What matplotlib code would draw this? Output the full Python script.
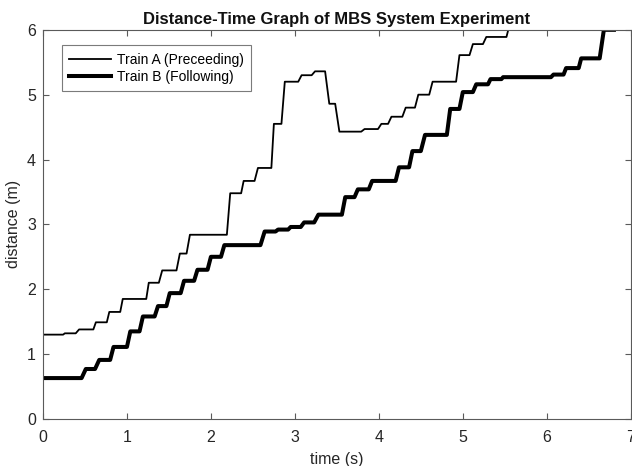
import matplotlib
matplotlib.use("Agg")
import matplotlib.pyplot as plt
import numpy as np

# Train A (Preceeding): step segments (start time, end time, distance)
a_t0 = [0.00, 0.26, 0.43, 0.63, 0.79, 0.95, 1.26, 1.42, 1.63, 1.75, 2.23, 2.39, 2.56, 2.75,
        2.88, 3.08, 3.24, 3.41, 3.53, 3.83, 4.03, 4.15, 4.32, 4.47, 4.64, 4.96, 5.12, 5.28, 5.58]
a_t1 = [0.24, 0.39, 0.60, 0.76, 0.92, 1.23, 1.38, 1.59, 1.71, 2.19, 2.36, 2.52, 2.72, 2.84,
        3.04, 3.20, 3.36, 3.48, 3.79, 3.99, 4.11, 4.28, 4.43, 4.60, 4.92, 5.08, 5.24, 5.52, 5.70]
a_d = [1.30, 1.32, 1.38, 1.49, 1.65, 1.85, 2.10, 2.29, 2.55, 2.84, 3.48, 3.67, 3.87, 4.55,
       5.20, 5.30, 5.36, 4.86, 4.43, 4.47, 4.55, 4.66, 4.80, 5.00, 5.20, 5.61, 5.78, 5.89, 6.20]

# Train B (Following)
b_t0 = [0.00, 0.51, 0.67, 0.84, 1.04, 1.19, 1.37, 1.51, 1.68, 1.84, 2.00, 2.16, 2.64, 2.80,
        2.95, 3.11, 3.28, 3.60, 3.75, 3.92, 4.24, 4.40, 4.55, 4.85, 5.00, 5.16, 5.33, 5.48,
        6.08, 6.23, 6.41, 6.68]
b_t1 = [0.46, 0.62, 0.80, 1.00, 1.15, 1.33, 1.47, 1.64, 1.80, 1.96, 2.12, 2.59, 2.77, 2.92,
        3.07, 3.23, 3.56, 3.71, 3.88, 4.20, 4.36, 4.50, 4.81, 4.96, 5.12, 5.30, 5.46, 6.05,
        6.20, 6.38, 6.63, 6.80]
b_d = [0.63, 0.77, 0.91, 1.11, 1.35, 1.58, 1.74, 1.94, 2.13, 2.30, 2.50, 2.68, 2.89, 2.92,
       2.96, 3.03, 3.15, 3.42, 3.54, 3.67, 3.88, 4.13, 4.38, 4.78, 5.04, 5.16, 5.24, 5.27,
       5.31, 5.41, 5.56, 6.00]

x_ticks = [0, 1, 2, 3, 4, 5, 6, 7]
y_ticks = [0, 1, 2, 3, 4, 5, 6]


def path(t0, t1, d):
    t = np.column_stack([t0, t1]).ravel()
    y = np.column_stack([d, d]).ravel()
    return t, y


plt.rcParams['font.family'] = ['Liberation Sans', 'DejaVu Sans']
fig = plt.figure(figsize=(6.32, 4.66), dpi=100)
ax = fig.add_axes([0.068, 0.101, 0.930, 0.835])

ta, ya = path(a_t0, a_t1, a_d)
tb, yb = path(b_t0, b_t1, b_d)
ax.plot(ta, ya, color='black', lw=1.3, label='Train A (Preceeding)')
ax.plot(tb, yb, color='black', lw=2.9, label='Train B (Following)')

ax.set_xlim(0, 7)
ax.set_ylim(0, 6)
ax.set_xticks(x_ticks)
ax.set_yticks(y_ticks)
edge = '#5a5a5a'
for s in ax.spines.values():
    s.set_color(edge)
    s.set_linewidth(0.8)
ax.tick_params(direction='in', top=True, right=True, length=4, width=0.8,
               colors=edge, labelcolor='#262626', labelsize=11.5)
ax.tick_params(axis='x', pad=8)
ax.tick_params(axis='y', pad=5)
ax.set_xlabel('time (s)', fontsize=11.5, color='#262626', labelpad=5)
ax.set_ylabel('distance (m)', fontsize=11.5, color='#262626', labelpad=4)
ax.set_title('Distance-Time Graph of MBS System Experiment', fontsize=12,
             fontweight='bold', color='#111111', pad=4)

leg = ax.legend(loc='upper left', bbox_to_anchor=(0.032, 0.96), fontsize=10,
                frameon=True, fancybox=False, borderaxespad=0, handlelength=3.0,
                handletextpad=0.4, borderpad=0.55, labelspacing=0.2)
leg.get_frame().set_edgecolor(edge)
leg.get_frame().set_linewidth(0.8)

fig.savefig('out.png', dpi=100)
